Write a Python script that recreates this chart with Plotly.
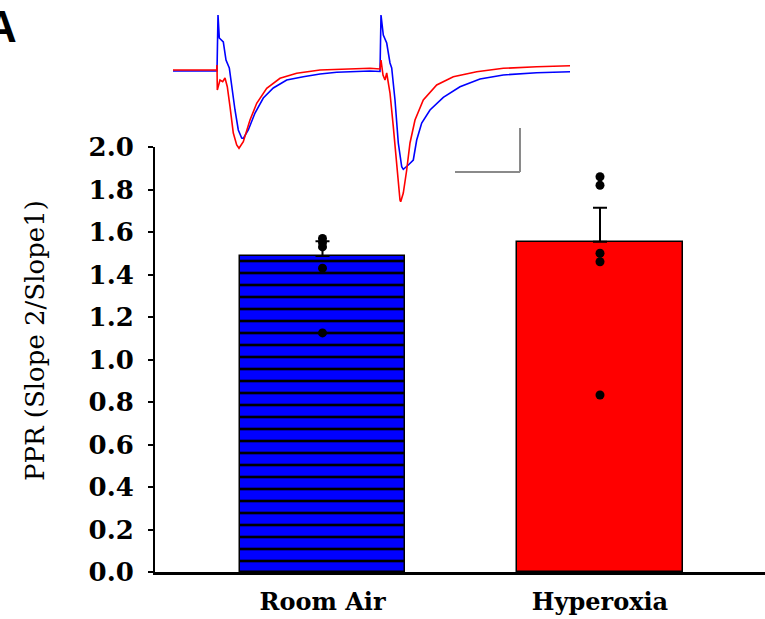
import plotly.graph_objects as go

# ---- data ----
groups = ["Room Air", "Hyperoxia"]
group_x = [0, 1]
means = [1.487, 1.554]
sem_up = [0.07, 0.16]
room_air_pts = [1.57, 1.55, 1.53, 1.43, 1.125]
hyperoxia_pts = [1.86, 1.82, 1.50, 1.46, 0.833]
y_ticks = [0.0, 0.2, 0.4, 0.6, 0.8, 1.0, 1.2, 1.4, 1.6, 1.8, 2.0]

# inset traces (time, amplitude in arbitrary units)
blue_t = [0, 44, 45, 46.3, 50.3, 53, 56.3, 58.7, 62, 65.3, 68.7, 70.3, 75.3, 82, 90.3,
          100.3, 113.7, 130.3, 147, 163.7, 197,
          207, 208, 210.3, 213.7, 217, 218.7, 222, 225.3, 228.7, 230.3, 235.3, 240.3,
          243.7, 248.7, 257, 270.3, 287, 307, 330.3, 363.7, 397]
blue_a = [-1, -1, 55, 32, 28, 10, 2, -17, -40, -60, -68, -68.3, -60, -43, -28,
          -18, -10, -6.7, -4, -2.3, -1,
          -1.5, 55, 35, 27, 7, 2, -30, -73, -96.7, -99.3, -95, -90,
          -70, -53, -40, -27.3, -16.7, -9, -5, -2.7, -1.7]
red_t = [0, 43.7, 44, 44.3, 47, 49.7, 52, 54.3, 57, 60.3, 63.7, 66, 70.3, 77, 83.7,
         93.7, 107, 123.7, 147, 197,
         207, 208, 210, 212, 213.7, 217, 220.3, 223.7, 227, 227.7, 230.3, 233.7, 237,
         242, 250.3, 263.7, 280.3, 303.7, 330.3, 363.7, 397]
red_a = [0, 0, 5, -20, -10, -11.7, -8, -16.7, -36.7, -63, -75, -78.3, -71.7, -50, -33.3,
         -18.3, -8.3, -3.3, 0, 1.7,
         1, 10, -5, -10, -3, -23, -56.7, -96.7, -130, -131.7, -123, -100, -73,
         -50, -30, -15, -6.7, -1.7, 1.7, 3.3, 4.3]

# scale bar (inset units)
sb_x0, sb_x1 = 282, 347
sb_y0, sb_y1 = -102, -58

BLUE = "#0000ff"
RED = "#ff0000"
SERIF = "DejaVu Serif"

fig = go.Figure()

fig.add_trace(go.Bar(
    x=[group_x[0]], y=[means[0]], width=0.595,
    marker=dict(color=BLUE, line=dict(color="black", width=1.5),
                pattern=dict(shape="-", fgcolor="black", bgcolor=BLUE,
                             size=12, solidity=0.22, fillmode="replace")),
    error_y=dict(type="data", symmetric=False, array=[sem_up[0]], arrayminus=[0],
                 color="black", thickness=2, width=7),
    showlegend=False))
fig.add_trace(go.Bar(
    x=[group_x[1]], y=[means[1]], width=0.595,
    marker=dict(color=RED, line=dict(color="black", width=1.5)),
    error_y=dict(type="data", symmetric=False, array=[sem_up[1]], arrayminus=[0],
                 color="black", thickness=2, width=7),
    showlegend=False))

fig.add_trace(go.Scatter(
    x=[group_x[0]] * len(room_air_pts), y=room_air_pts, mode="markers",
    marker=dict(color="black", size=9, symbol="circle"), showlegend=False))
fig.add_trace(go.Scatter(
    x=[group_x[1]] * len(hyperoxia_pts), y=hyperoxia_pts, mode="markers",
    marker=dict(color="black", size=9, symbol="circle"), showlegend=False))

# inset traces
fig.add_trace(go.Scatter(x=blue_t, y=blue_a, mode="lines", xaxis="x2", yaxis="y2",
                         line=dict(color=BLUE, width=1.6), showlegend=False))
fig.add_trace(go.Scatter(x=red_t, y=red_a, mode="lines", xaxis="x2", yaxis="y2",
                         line=dict(color=RED, width=1.6), showlegend=False))

W, H = 765, 619
plot_h = 572.0

fig.update_layout(
    width=W, height=H,
    margin=dict(l=0, r=0, t=0, b=47, autoexpand=False),
    paper_bgcolor="white", plot_bgcolor="white",
    bargap=0,
    xaxis=dict(domain=[155 / W, 1], range=[-0.6036, 1.5946], automargin=False,
               tickvals=group_x, ticktext=groups,
               tickfont=dict(family=SERIF, size=24, color="black", weight="bold"),
               showline=True, linecolor="black", linewidth=3,
               ticks="", showgrid=False, zeroline=False, ticklabelstandoff=6),
    yaxis=dict(domain=[0, (572 - 147) / plot_h], range=[0, 2.0], automargin=False,
               tickvals=y_ticks, tickformat=".1f",
               tickfont=dict(family=SERIF, size=26, color="black", weight="bold"),
               showline=True, linecolor="black", linewidth=2,
               ticks="outside", ticklen=5, tickwidth=1.5, tickcolor="black",
               ticklabelstandoff=9,
               showgrid=False, zeroline=False),
    xaxis2=dict(domain=[173 / W, 573 / W], range=[0, 400], visible=False,
                anchor="y2", automargin=False),
    yaxis2=dict(domain=[(572 - 210) / plot_h, (572 - 10) / plot_h],
                range=[-140, 60], visible=False, anchor="x2", automargin=False),
    shapes=[
        dict(type="line", xref="x2", yref="y2", x0=sb_x0, x1=sb_x1, y0=sb_y0, y1=sb_y0,
             line=dict(color="#8a8a8a", width=2)),
        dict(type="line", xref="x2", yref="y2", x0=sb_x1, x1=sb_x1, y0=sb_y0, y1=sb_y1,
             line=dict(color="#8a8a8a", width=2)),
    ],
    annotations=[
        dict(text="PPR (Slope 2/Slope1)", textangle=-90, xref="paper", yref="paper",
             x=35 / W, y=(plot_h - 341) / plot_h, xanchor="center", yanchor="middle",
             showarrow=False, font=dict(family=SERIF, size=26, color="black")),
        dict(text="A", xref="paper", yref="paper", x=19 / W, y=1 - 27 / plot_h,
             xanchor="right", yanchor="middle", showarrow=False,
             font=dict(family="Liberation Sans", size=44, color="black", weight="bold")),
    ],
)

fig.write_html("out.html")
